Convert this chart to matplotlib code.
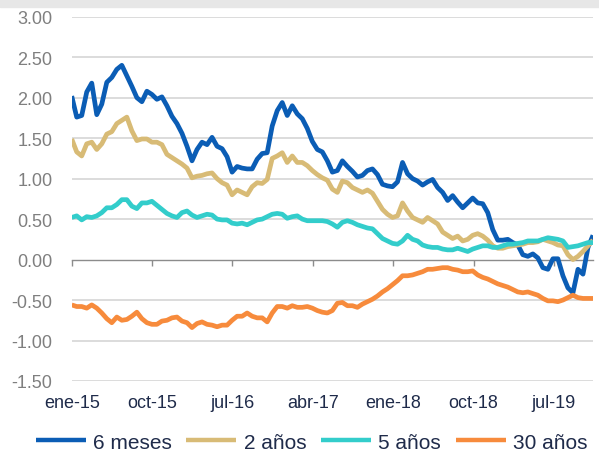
import matplotlib
matplotlib.use("Agg")
import matplotlib.pyplot as plt
import pandas as pd
from matplotlib.patches import Rectangle

plt.rcParams['font.family'] = ['Liberation Sans', 'DejaVu Sans']

# datos (105 puntos, ene-2015 a nov-2019)
fechas = pd.date_range('2015-01-01', '2019-11-12', periods=105)

meses6 = [2.02, 1.76, 1.78, 2.07, 2.18, 1.79, 1.92, 2.19, 2.25, 2.35,
          2.40, 2.27, 2.14, 2.00, 1.95, 2.08, 2.04, 1.98, 2.01, 1.90,
          1.77, 1.68, 1.56, 1.40, 1.22, 1.36, 1.45, 1.42, 1.51, 1.40,
          1.37, 1.27, 1.08, 1.15, 1.13, 1.12, 1.12, 1.24, 1.31, 1.32,
          1.65, 1.84, 1.94, 1.78, 1.90, 1.80, 1.74, 1.62, 1.46, 1.36,
          1.33, 1.22, 1.08, 1.10, 1.22, 1.15, 1.09, 1.02, 1.04, 1.10,
          1.12, 1.05, 0.93, 0.91, 0.90, 0.96, 1.20, 1.06, 1.00, 0.97,
          0.92, 0.96, 0.99, 0.89, 0.83, 0.73, 0.79, 0.71, 0.64, 0.70,
          0.76, 0.70, 0.69, 0.58, 0.37, 0.24, 0.24, 0.25, 0.21, 0.18,
          0.06, 0.04, 0.07, 0.02, -0.10, -0.12, 0.01, 0.01, -0.20, -0.35,
          -0.41, -0.12, -0.18, 0.15, 0.30]

anos2 = [1.49, 1.33, 1.28, 1.43, 1.45, 1.36, 1.43, 1.55, 1.58, 1.68,
         1.72, 1.76, 1.59, 1.47, 1.49, 1.49, 1.45, 1.45, 1.42, 1.30,
         1.26, 1.22, 1.18, 1.13, 1.01, 1.03, 1.04, 1.06, 1.07, 1.00,
         0.95, 0.92, 0.80, 0.86, 0.83, 0.80, 0.90, 0.95, 0.94, 0.99,
         1.25, 1.28, 1.32, 1.20, 1.28, 1.20, 1.20, 1.16, 1.10, 1.05,
         1.01, 0.98, 0.87, 0.83, 0.97, 0.95, 0.89, 0.86, 0.83, 0.86,
         0.82, 0.72, 0.62, 0.56, 0.52, 0.54, 0.70, 0.60, 0.52, 0.49,
         0.46, 0.52, 0.48, 0.44, 0.34, 0.30, 0.26, 0.29, 0.23, 0.25,
         0.30, 0.32, 0.29, 0.24, 0.17, 0.14, 0.14, 0.16, 0.17, 0.18,
         0.19, 0.21, 0.21, 0.22, 0.25, 0.23, 0.21, 0.18, 0.17, 0.06,
         0.00, 0.04, 0.10, 0.17, 0.24]

anos5 = [0.52, 0.54, 0.49, 0.53, 0.52, 0.54, 0.58, 0.64, 0.64, 0.68,
         0.74, 0.74, 0.66, 0.63, 0.70, 0.70, 0.72, 0.67, 0.62, 0.57,
         0.54, 0.52, 0.58, 0.60, 0.55, 0.52, 0.54, 0.56, 0.55, 0.50,
         0.49, 0.49, 0.45, 0.44, 0.45, 0.43, 0.46, 0.49, 0.50, 0.53,
         0.56, 0.57, 0.56, 0.51, 0.53, 0.54, 0.50, 0.48, 0.48, 0.48,
         0.48, 0.47, 0.44, 0.40, 0.46, 0.48, 0.46, 0.43, 0.41, 0.39,
         0.38, 0.32, 0.26, 0.23, 0.20, 0.19, 0.23, 0.30, 0.25, 0.23,
         0.18, 0.16, 0.15, 0.15, 0.13, 0.12, 0.12, 0.14, 0.12, 0.10,
         0.13, 0.15, 0.17, 0.17, 0.15, 0.15, 0.17, 0.19, 0.19, 0.20,
         0.21, 0.23, 0.23, 0.23, 0.25, 0.27, 0.26, 0.25, 0.23, 0.15,
         0.16, 0.17, 0.19, 0.21, 0.21]

anos30 = [-0.56, -0.58, -0.58, -0.60, -0.56, -0.60, -0.66, -0.73, -0.78, -0.71,
          -0.75, -0.74, -0.70, -0.65, -0.73, -0.78, -0.80, -0.80, -0.76, -0.75,
          -0.72, -0.71, -0.76, -0.78, -0.84, -0.79, -0.77, -0.80, -0.81, -0.83,
          -0.81, -0.81, -0.75, -0.70, -0.70, -0.66, -0.70, -0.72, -0.72, -0.77,
          -0.66, -0.58, -0.58, -0.60, -0.57, -0.59, -0.59, -0.58, -0.60, -0.63,
          -0.65, -0.66, -0.63, -0.54, -0.53, -0.57, -0.57, -0.59, -0.55, -0.52,
          -0.49, -0.45, -0.40, -0.36, -0.31, -0.26, -0.20, -0.20, -0.19, -0.17,
          -0.15, -0.12, -0.12, -0.11, -0.10, -0.10, -0.12, -0.13, -0.15, -0.15,
          -0.14, -0.19, -0.22, -0.24, -0.27, -0.30, -0.32, -0.34, -0.37, -0.40,
          -0.41, -0.40, -0.42, -0.44, -0.48, -0.51, -0.51, -0.52, -0.50, -0.47,
          -0.44, -0.47, -0.48, -0.48, -0.48]

series = [meses6, anos2, anos5, anos30]
nombres = ['6 meses', '2 años', '5 años', '30 años']
colores = ['#0B5DB5', '#D8BB76', '#33CDCB', '#F78B3C']

tick_fechas = pd.to_datetime(['2015-01-01', '2015-10-01', '2016-07-01', '2017-04-01',
                              '2018-01-01', '2018-10-01', '2019-07-01'])
tick_labels = ['ene-15', 'oct-15', 'jul-16', 'abr-17', 'ene-18', 'oct-18', 'jul-19']

fig = plt.figure(figsize=(5.99, 4.56), dpi=100)
ax = fig.add_axes([0.1197, 0.1623, 0.8703, 0.7988])

# franja gris arriba
fig.patches.append(Rectangle((0, 1 - 7.5 / 456), 1, 7.5 / 456, transform=fig.transFigure,
                             color='#E7E7E7', zorder=0))

yt = [3.0, 2.5, 2.0, 1.5, 1.0, 0.5, 0.0, -0.5, -1.0, -1.5]
for v in yt:
    if v != 0:
        ax.axhline(v, color='#D9D9D9', lw=1.3, zorder=0)

for s, n, c in zip(series, nombres, colores):
    ax.plot(fechas, s, color=c, lw=3.4, label=n, solid_capstyle='butt',
            solid_joinstyle='round')

ax.set_ylim(-1.5, 3.0)
ax.set_xlim(fechas[0], fechas[-1])
ax.set_yticks(yt)
ax.set_yticklabels(['%.2f' % v for v in yt])
ax.tick_params(axis='y', length=0, labelsize=13, labelcolor='#7F7F7F', pad=14)

for sp in ['top', 'right', 'left']:
    ax.spines[sp].set_visible(False)
ax.spines['bottom'].set_position(('data', 0))
ax.spines['bottom'].set_color('#8C8C8C')
ax.spines['bottom'].set_linewidth(1.0)
ax.spines['bottom'].set_zorder(1)
ax.set_xticks(tick_fechas)
ax.tick_params(axis='x', direction='out', length=4, width=1.0, color='#8C8C8C',
               labelbottom=False)
for f, l in zip(tick_fechas, tick_labels):
    ax.text(f, -0.035, l, transform=ax.get_xaxis_transform(), ha='center', va='top',
            fontsize=13, color='#1F2B4A')

leg = fig.legend(loc='center', bbox_to_anchor=(0.52, 0.028), ncol=4, frameon=False,
                 fontsize=15, handlelength=2.4, handletextpad=0.35, columnspacing=0.7,
                 labelcolor='#1F2B4A')
for h in leg.get_lines():
    h.set_linewidth(3.2)

fig.savefig('out.png', dpi=100)
